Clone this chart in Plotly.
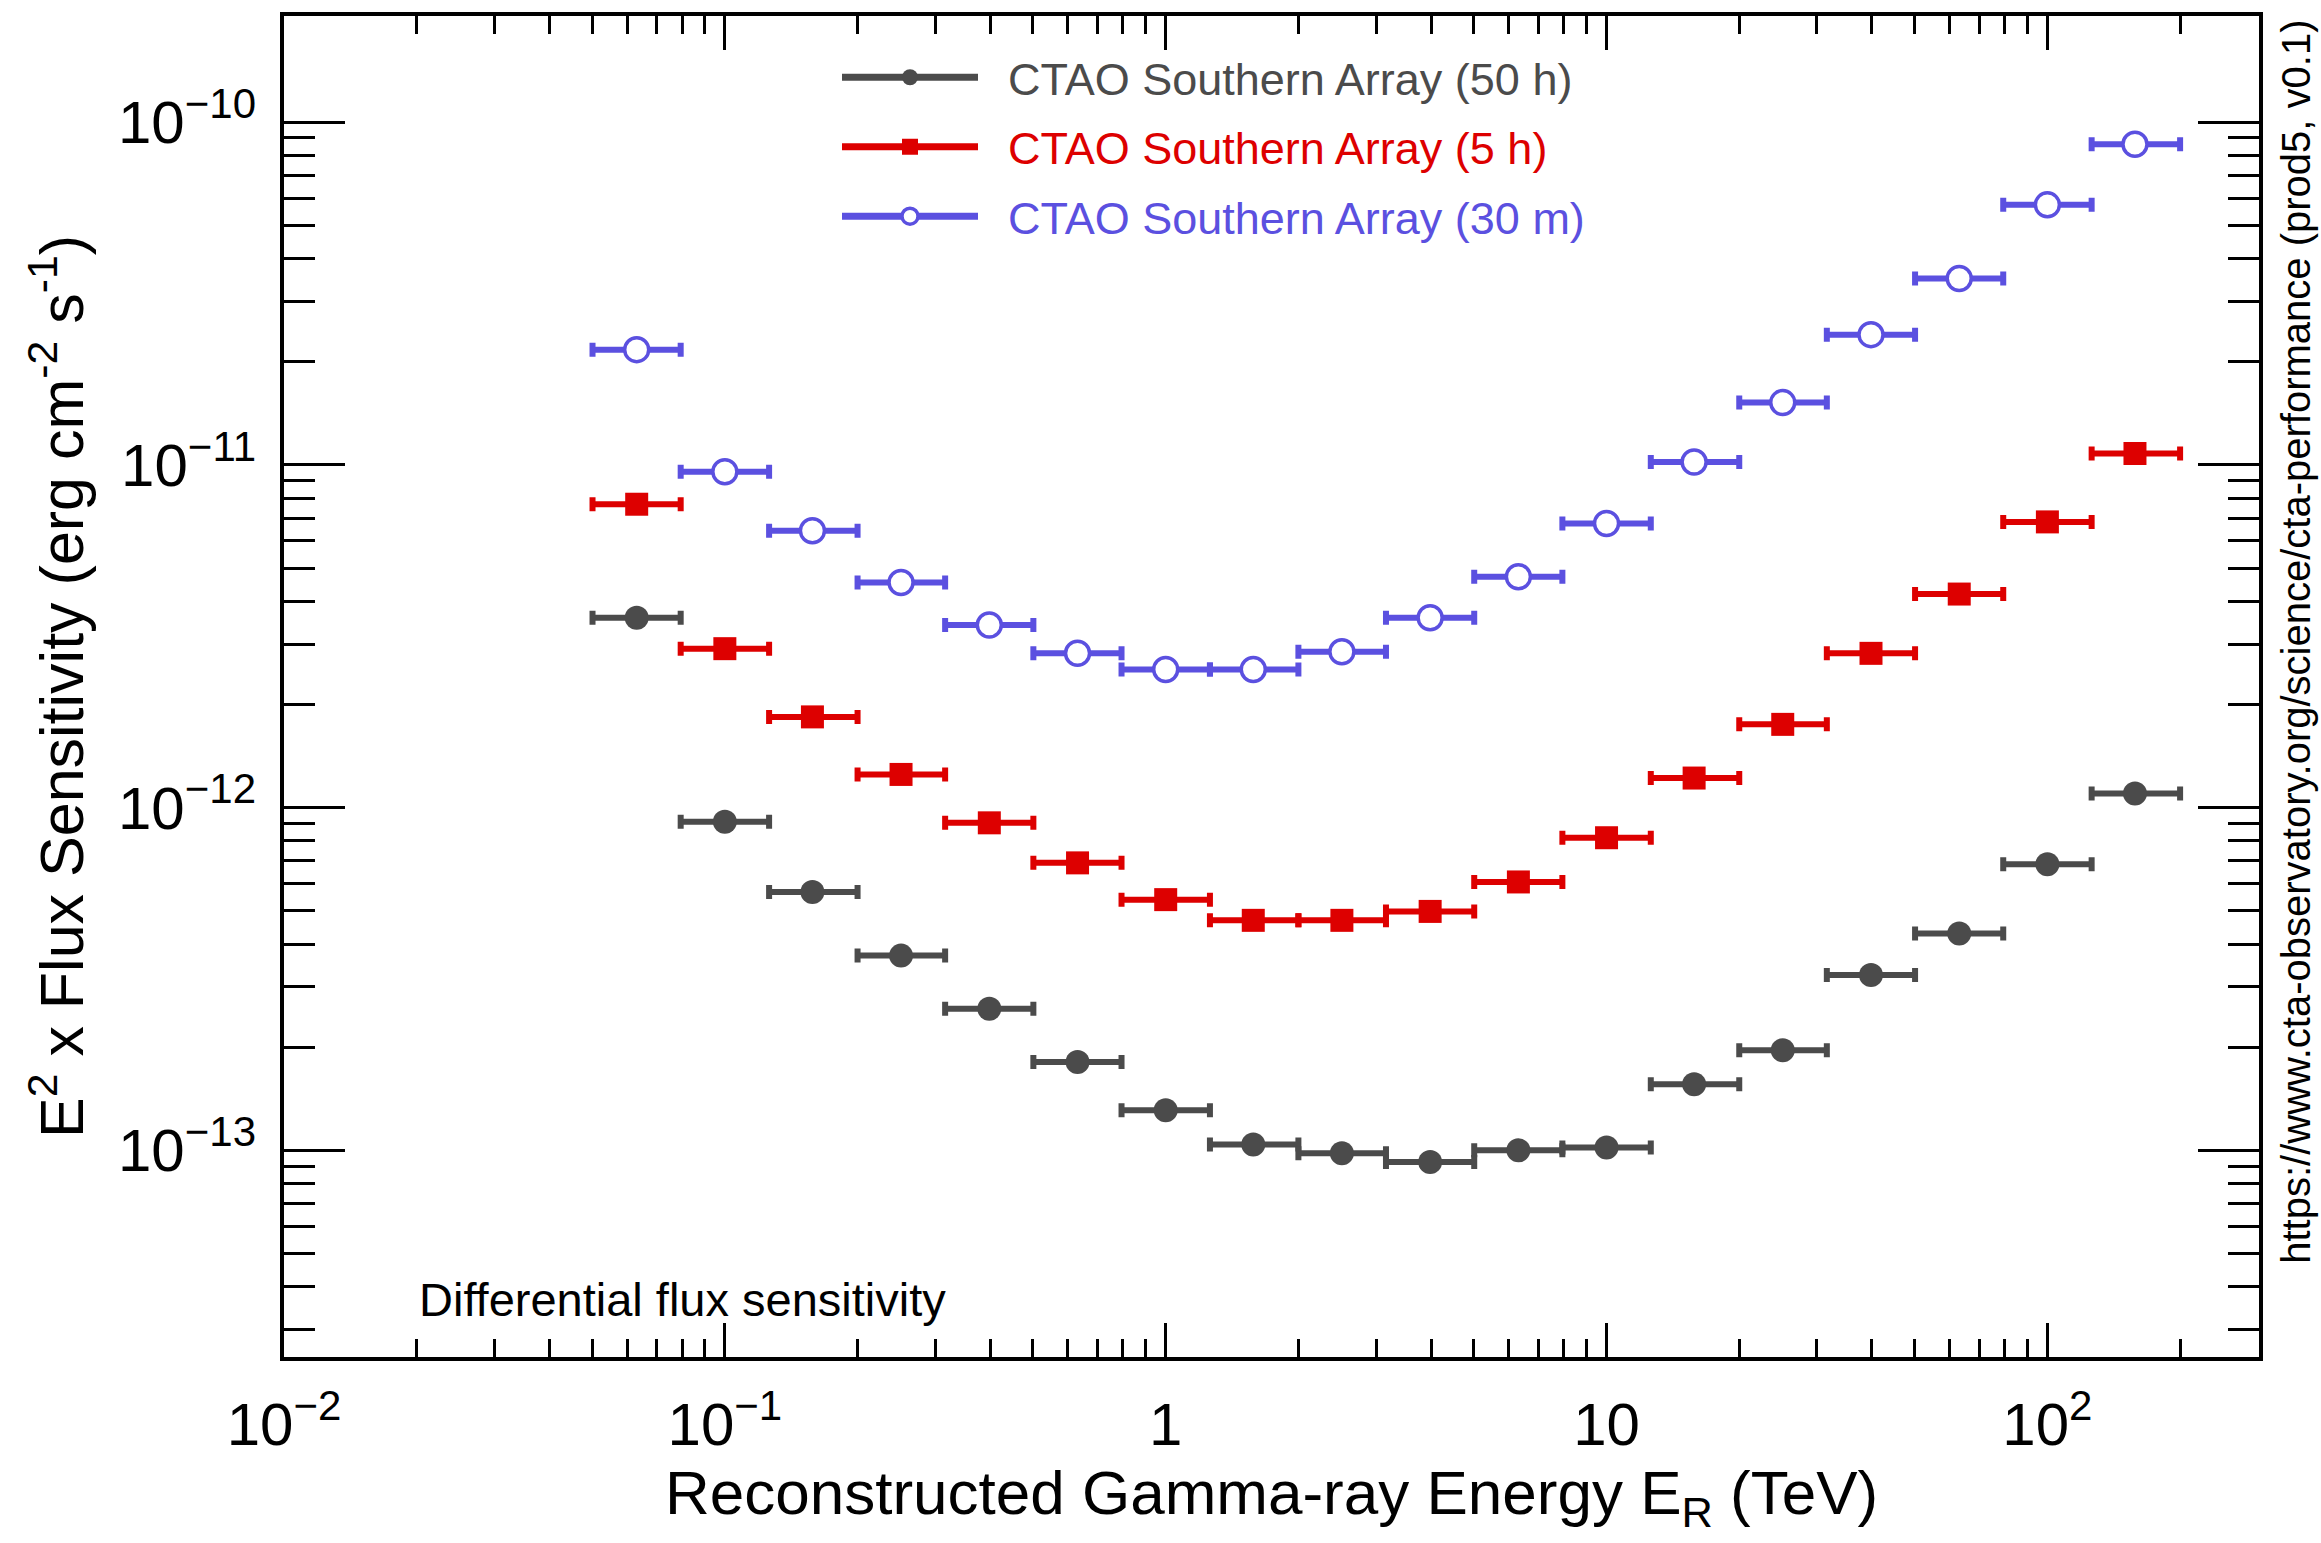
import plotly.graph_objects as go

# ---------------- data ----------------
energy_center = [0.0631, 0.1, 0.158, 0.251, 0.398, 0.631, 1.0, 1.58, 2.51, 3.98,
                 6.31, 10.0, 15.8, 25.1, 39.8, 63.1, 100.0, 158.0]
energy_low = [0.0501, 0.0794, 0.126, 0.2, 0.316, 0.501, 0.794, 1.26, 2.0, 3.16,
              5.01, 7.94, 12.6, 20.0, 31.6, 50.1, 79.4, 126.0]
energy_high = [0.0794, 0.126, 0.2, 0.316, 0.501, 0.794, 1.26, 2.0, 3.16, 5.01,
               7.94, 12.6, 20.0, 31.6, 50.1, 79.4, 126.0, 200.0]

sens_50h = [3.58e-12, 9.1e-13, 5.67e-13, 3.70e-13, 2.59e-13, 1.81e-13, 1.31e-13,
            1.04e-13, 9.8e-14, 9.25e-14, 1.0e-13, 1.02e-13, 1.56e-13, 1.96e-13,
            3.25e-13, 4.29e-13, 6.84e-13, 1.10e-12]
sens_5h = [7.68e-12, 2.91e-12, 1.84e-12, 1.25e-12, 9.03e-13, 6.90e-13, 5.39e-13,
           4.69e-13, 4.69e-13, 4.98e-13, 6.07e-13, 8.17e-13, 1.22e-12, 1.75e-12,
           2.82e-12, 4.2e-12, 6.82e-12, 1.08e-11]
sens_30m = [2.17e-11, 9.55e-12, 6.43e-12, 4.54e-12, 3.41e-12, 2.82e-12, 2.53e-12,
            2.53e-12, 2.85e-12, 3.58e-12, 4.72e-12, 6.75e-12, 1.02e-11, 1.52e-11,
            2.40e-11, 3.50e-11, 5.74e-11, 8.62e-11]

series_names = ["CTAO Southern Array (50 h)", "CTAO Southern Array (5 h)",
                "CTAO Southern Array (30 m)"]

x_tickvals = [0.01, 0.1, 1, 10, 100]
x_ticktext = ["10<sup>−2</sup>", "10<sup>−1</sup>", "1", "10", "10<sup>2</sup>"]
y_tickvals = [1e-13, 1e-12, 1e-11, 1e-10]
y_ticktext = ["10<sup>−13</sup>", "10<sup>−12</sup>", "10<sup>−11</sup>", "10<sup>−10</sup>"]

# ---------------- styling ----------------
FONT = "Liberation Sans, Arial, Helvetica, sans-serif"
GREY = "#4b4b4b"
RED = "#dd0000"
BLUE = "#5b50e0"

err_plus = [h - c for h, c in zip(energy_high, energy_center)]
err_minus = [c - l for l, c in zip(energy_low, energy_center)]

fig = go.Figure()

styles = [
    (sens_50h, GREY, dict(symbol="circle", size=24, color=GREY)),
    (sens_5h, RED, dict(symbol="square", size=23, color=RED)),
    (sens_30m, BLUE, dict(symbol="circle", size=24, color="white",
                          line=dict(color=BLUE, width=3.5))),
]

for vals, col, mk in styles:
    fig.add_trace(go.Scatter(
        x=energy_center, y=vals, mode="markers", marker=mk,
        error_x=dict(type="data", symmetric=False, array=err_plus,
                     arrayminus=err_minus, color=col, thickness=6, width=7),
        showlegend=False, hoverinfo="x+y"))

# legend entries
for i, (name, (vals, col, mk)) in enumerate(zip(series_names, styles)):
    fig.add_trace(go.Scatter(
        x=[None], y=[None], mode="lines+markers", marker=mk,
        line=dict(color=col, width=7),
        name='<span style="color:%s">\u00a0\u00a0%s</span>' % (col, name),
        legendgroup="g%d" % i, showlegend=True))

minor_x = [k * 10 ** n for n in range(-2, 3) for k in range(2, 10) if k * 10 ** n < 300]
minor_y = [k * 10.0 ** n for n in range(-14, -9) for k in range(2, 10)
           if 2.5e-14 < k * 10.0 ** n < 2e-10]

axis_common = dict(
    showline=True, linecolor="black", linewidth=4, mirror="allticks",
    ticks="inside", tickcolor="black", tickwidth=3,
    showgrid=False, zeroline=False,
    tickfont=dict(family=FONT, size=60, color="black"),
    tickmode="array",
)

fig.update_layout(
    width=2321, height=1543,
    margin=dict(l=284, r=62, t=12, b=186),
    paper_bgcolor="white", plot_bgcolor="white",
    font=dict(family=FONT, color="black"),
    xaxis=dict(
        type="log", range=[-2, 2.48],
        tickvals=x_tickvals, ticktext=x_ticktext, ticklen=34,
        ticklabelstandoff=12,
        minor=dict(tickmode="array", tickvals=minor_x, ticks="inside",
                   ticklen=18, tickwidth=3, tickcolor="black", showgrid=False),
        **axis_common),
    yaxis=dict(
        type="log", range=[-13.603, -9.69],
        tickvals=y_tickvals, ticktext=y_ticktext, ticklen=61,
        ticklabelstandoff=12,
        minor=dict(tickmode="array", tickvals=minor_y, ticks="inside",
                   ticklen=31, tickwidth=3, tickcolor="black", showgrid=False),
        title=dict(text="E<sup>2</sup> x Flux Sensitivity (erg cm<sup>-2</sup> s<sup>-1</sup>)",
                   font=dict(family=FONT, size=61, color="black"), standoff=16),
        **axis_common),
    legend=dict(
        x=0.28, y=0.981, xanchor="left", yanchor="top",
        bgcolor="rgba(0,0,0,0)", borderwidth=0,
        font=dict(family=FONT, size=45),
        tracegroupgap=8, itemwidth=136, itemsizing="trace",
    ),
    annotations=[
        dict(text="Reconstructed Gamma-ray Energy E<sub>R</sub> (TeV)",
             xref="paper", yref="paper", x=0.5, y=-0.074, xanchor="center",
             yanchor="top", showarrow=False,
             font=dict(family=FONT, size=62, color="black")),
        dict(text="Differential flux sensitivity", xref="paper", yref="paper",
             x=0.0673, y=0.043, xanchor="left", yanchor="middle", showarrow=False,
             font=dict(family=FONT, size=47, color="black")),
        dict(text="https://www.cta-observatory.org/science/cta-performance (prod5, v0.1)",
             xref="paper", yref="paper", x=1.019, y=0.533, xanchor="center",
             yanchor="middle", textangle=-90, showarrow=False,
             font=dict(family=FONT, size=40, color="black")),
    ],
)

fig.write_html("out.html")
